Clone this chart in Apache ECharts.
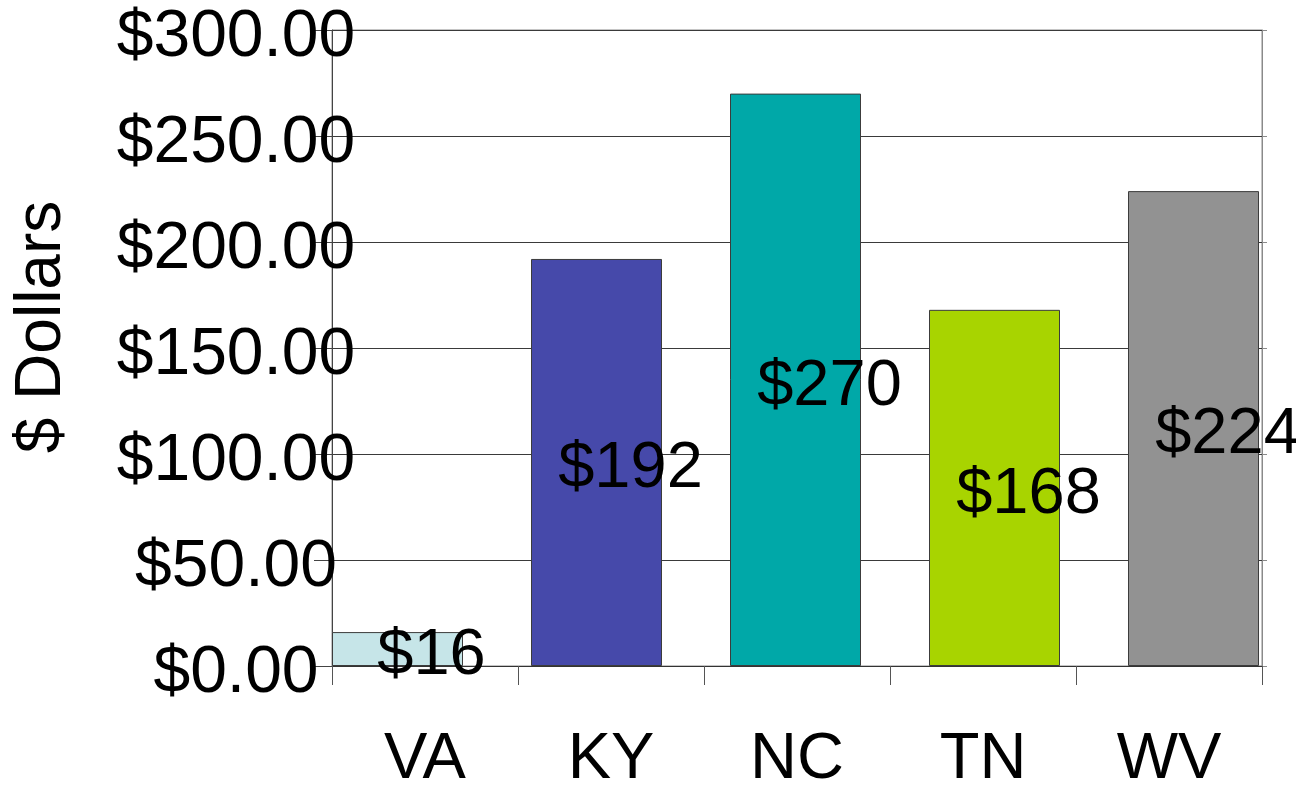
<!DOCTYPE html>
<html>
<head>
<meta charset="utf-8">
<title>$ Dollars by state</title>
<script src="https://cdn.jsdelivr.net/npm/echarts@6/dist/echarts.min.js"></script>
<style>
    html, body {
        margin: 0;
        padding: 0;
        background: #fff;
    }
    #bar-chart {
        width: 1296px;
        height: 786px;
    }
</style>
</head>
<body>
<div id="bar-chart"></div>
<script>
// chart data
const states = ['VA', 'KY', 'NC', 'TN', 'WV'];
const dollars = [16, 192, 270, 168, 224];
const barColors = ['#c6e5e8', '#4649aa', '#00a8a8', '#a8d400', '#929292'];
const yTicks = [0, 50, 100, 150, 200, 250, 300];

const fontFamily = '"Liberation Sans", Arial, sans-serif';

const chart = echarts.init(document.getElementById('bar-chart'));

const option = {
    animation: false,
    textStyle: { fontFamily },
    grid: [
        // axes, ticks and labels
        {
            left: 332, right: 34, top: 30, bottom: 120,
            outerBoundsMode: 'none',
            show: true, borderColor: '#8a8a8a', borderWidth: 1
        },
        // bars sit on a slightly wider band than the category ticks
        { left: 298, width: 995, top: 30, bottom: 120, outerBoundsMode: 'none' }
    ],
    xAxis: [
        {
            gridIndex: 0,
            type: 'category',
            data: states,
            axisLine: { lineStyle: { color: '#333', width: 1 } },
            axisTick: { show: true, length: 19, lineStyle: { color: '#555' } },
            axisLabel: { color: '#000', fontSize: 65, margin: 62, fontFamily }
        },
        {
            gridIndex: 1,
            type: 'category',
            data: states,
            show: false
        }
    ],
    yAxis: [
        {
            gridIndex: 0,
            type: 'value',
            min: yTicks[0],
            max: yTicks[yTicks.length - 1],
            interval: yTicks[1] - yTicks[0],
            name: '$ Dollars',
            nameLocation: 'middle',
            nameGap: 258,
            nameTextStyle: { color: '#000', fontSize: 64, fontFamily, padding: [0, 0, 0, 42] },
            axisLine: { show: true, lineStyle: { color: '#444' } },
            axisTick: { show: true, length: 18, lineStyle: { color: '#444' } },
            splitLine: { lineStyle: { color: '#3a3a3a', width: 1 } },
            axisLabel: {
                color: '#000',
                fontFamily,
                align: 'center',
                margin: 96,
                formatter: v => '{v|$' + v.toFixed(2) + '}',
                rich: {
                    v: { fontSize: 66, color: '#000', fontFamily, padding: [16, 0, 0, 0] }
                }
            }
        },
        {
            gridIndex: 0,
            type: 'value',
            position: 'right',
            min: yTicks[0],
            max: yTicks[yTicks.length - 1],
            interval: yTicks[1] - yTicks[0],
            axisLine: { show: true, lineStyle: { color: '#8a8a8a' } },
            axisTick: { show: true, length: 5, lineStyle: { color: '#8a8a8a' } },
            axisLabel: { show: false },
            splitLine: { show: false }
        },
        {
            gridIndex: 1,
            type: 'value',
            min: yTicks[0],
            max: yTicks[yTicks.length - 1],
            show: false,
            splitLine: { show: false }
        }
    ],
    series: [
        {
            type: 'bar',
            xAxisIndex: 1,
            yAxisIndex: 2,
            barWidth: 131,
            data: dollars.map((v, i) => ({
                value: v,
                itemStyle: { color: barColors[i] }
            })),
            itemStyle: { borderColor: '#3c3c3c', borderWidth: 1 },
            label: {
                show: true,
                position: 'inside',
                offset: [34, 7],
                color: '#000',
                fontSize: 65,
                fontFamily,
                formatter: p => '$' + p.value
            },
            z: 3
        }
    ]
};

chart.setOption(option);
</script>
</body>
</html>
